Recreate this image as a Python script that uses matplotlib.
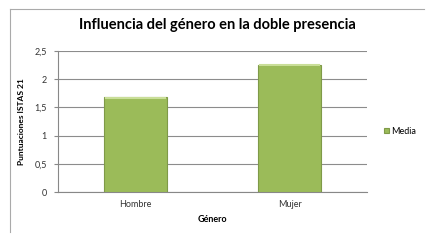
import matplotlib.pyplot as plt
from matplotlib.lines import Line2D

categorias = ['Hombre', 'Mujer']
media = [1.69, 2.26]
yticks = [0, 0.5, 1, 1.5, 2, 2.5]
ytick_labels = ['0', '0,5', '1', '1,5', '2', '2,5']

plt.rcParams['font.family'] = ['Lato', 'DejaVu Sans']

fig = plt.figure(figsize=(4.31, 2.47), dpi=100)
ax = fig.add_axes([58/431, 1-192/247, 309/431, 141/247])

x = range(len(categorias))
ax.bar(x, media, width=0.41, color='#9BBB59', edgecolor='#7F9A48', linewidth=0.8, label='Media', zorder=3)
# brillo superior de las barras
for xi, v in zip(x, media):
    ax.plot([xi-0.19, xi+0.19], [v-0.015, v-0.015], color='#C9DE98', lw=1.5, zorder=4)

ax.set_xlim(-0.5, 1.5)
ax.set_ylim(0, 2.5)
ax.set_yticks(yticks)
ax.set_yticklabels(ytick_labels, fontsize=6.5, color='#333333')
ax.set_xticks(list(x))
ax.set_xticklabels(categorias, fontsize=6.5, color='#333333')
ax.tick_params(axis='x', length=0, pad=6)
ax.tick_params(axis='y', length=3, color='#888888', pad=5)
ax.grid(axis='y', color='#8C8C8C', lw=0.8, zorder=0)
for s in ['top', 'right']:
    ax.spines[s].set_visible(False)
ax.spines['left'].set_color('#888888')
ax.spines['bottom'].set_color('#888888')

ax.set_xlabel('Género', fontsize=6.5, fontweight='bold', labelpad=4)
ax.set_ylabel('Puntuaciones ISTAS 21', fontsize=6, fontweight='bold', labelpad=7)

fig.text(217/431, 1-25/247, 'Influencia del género en la doble presencia',
         ha='center', va='center', fontsize=10.5, fontweight='bold')

leg = ax.legend(loc='center left', bbox_to_anchor=(1.03, 0.43), frameon=False,
                fontsize=6.5, handlelength=0.5, handleheight=0.5, handletextpad=0.3)

# marco del gráfico
fig.add_artist(Line2D([10/431, 10/431], [1-9/247, 1-232/247], color='#AAAAAA', lw=0.8))
fig.add_artist(Line2D([10/431, 424/431], [1-9/247, 1-9/247], color='#AAAAAA', lw=0.8))

fig.savefig('out.png', dpi=100)
